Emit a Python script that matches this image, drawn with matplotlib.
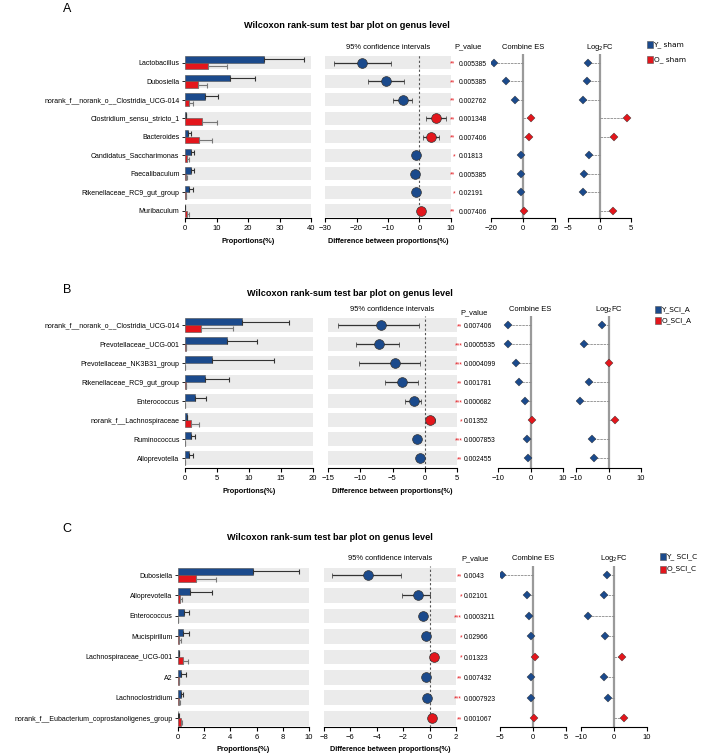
import numpy as np
import matplotlib.pyplot as plt
from matplotlib.patches import Rectangle

plt.rcParams['font.family'] = ['Liberation Sans', 'DejaVu Sans']

# ---- 数据 A: sham ----
a_taxa = ['Lactobacillus', 'Dubosiella', 'norank_f__norank_o__Clostridia_UCG-014',
          'Clostridium_sensu_stricto_1', 'Bacteroides', 'Candidatus_Saccharimonas',
          'Faecalibaculum', 'Rikenellaceae_RC9_gut_group', 'Muribaculum']
a_y_mean = [25.1, 14.3, 6.5, 0.2, 1.0, 1.9, 1.9, 1.2, 0.1]
a_y_sd = [12.7, 7.9, 3.9, 0.1, 0.9, 1.0, 1.0, 1.4, 0.05]
a_o_mean = [7.2, 4.0, 1.2, 5.5, 4.4, 0.7, 0.3, 0.2, 0.7]
a_o_sd = [6.0, 2.9, 1.2, 4.8, 4.3, 0.7, 0.2, 0.1, 0.7]
a_pval = [0.005385, 0.005385, 0.002762, 0.001348, 0.007406, 0.01813, 0.005385, 0.02191, 0.007406]
a_diff = [-18.2, -10.5, -5.2, 5.2, 3.6, -1.2, -1.5, -1.0, 0.5]
a_ci_lo = [-27.0, -16.5, -8.5, 2.2, 1.2, -2.0, -2.4, -2.0, -0.3]
a_ci_hi = [-9.0, -5.0, -2.5, 8.5, 6.3, -0.4, -0.6, -0.1, 1.2]
a_es = [-18.0, -10.5, -5.2, 5.0, 3.6, -1.2, -1.4, -1.0, 0.6]
a_fc = [-1.8, -1.95, -2.6, 4.4, 2.3, -1.6, -2.5, -2.6, 2.2]
a_groups = ['Y_ sham', 'O_ sham']

# ---- 数据 B: SCI_A ----
b_taxa = ['norank_f__norank_o__Clostridia_UCG-014', 'Prevotellaceae_UCG-001',
          'Prevotellaceae_NK3B31_group', 'Rikenellaceae_RC9_gut_group', 'Enterococcus',
          'norank_f__Lachnospiraceae', 'Ruminococcus', 'Alloprevotella']
b_y_mean = [8.85, 6.55, 4.25, 3.2, 1.5, 0.25, 1.0, 0.55]
b_y_sd = [7.4, 4.65, 9.65, 3.6, 1.8, 0.1, 0.5, 0.7]
b_o_mean = [2.5, 0.1, 0.05, 0.1, 0.05, 1.0, 0.05, 0.05]
b_o_sd = [5.0, 0.05, 0.02, 0.05, 0.02, 1.2, 0.02, 0.02]
b_pval = [0.007406, 0.0005535, 0.0004099, 0.001781, 0.000682, 0.01352, 0.0007853, 0.002455]
b_diff = [-6.85, -7.05, -4.55, -3.5, -1.65, 0.75, -1.2, -0.75]
b_ci_lo = [-13.5, -10.6, -10.2, -6.2, -3.0, 0.15, -1.7, -1.2]
b_ci_hi = [-0.9, -4.0, -0.7, -1.0, -0.6, 1.55, -0.7, -0.3]
b_es = [-6.8, -7.0, -4.6, -3.5, -1.8, 0.6, -1.2, -0.7]
b_fc = [-1.9, -7.5, 0.0, -6.0, -8.8, 2.1, -5.2, -4.6]
b_groups = ['Y_SCI_A', 'O_SCI_A']

# ---- 数据 C: SCI_C ----
c_taxa = ['Dubosiella', 'Alloprevotella', 'Enterococcus', 'Mucispirillum',
          'Lachnospiraceae_UCG-001', 'A2', 'Lachnoclostridium',
          'norank_f__Eubacterium_coprostanoligenes_group']
c_y_mean = [5.7, 0.9, 0.45, 0.35, 0.08, 0.25, 0.25, 0.03]
c_y_sd = [3.55, 1.7, 0.4, 0.5, 0.03, 0.33, 0.13, 0.02]
c_o_mean = [1.35, 0.15, 0.02, 0.1, 0.35, 0.05, 0.07, 0.2]
c_o_sd = [1.55, 0.15, 0.01, 0.1, 0.4, 0.03, 0.08, 0.13]
c_pval = [0.0043, 0.02101, 0.0003211, 0.02966, 0.01323, 0.007432, 0.0007923, 0.001067]
c_diff = [-4.65, -0.85, -0.5, -0.3, 0.3, -0.25, -0.18, 0.2]
c_ci_lo = [-7.4, -2.1, -0.7, -0.6, 0.05, -0.4, -0.3, 0.05]
c_ci_hi = [-2.2, 0.0, -0.3, -0.05, 0.55, -0.1, -0.05, 0.35]
c_es = [-4.7, -0.85, -0.55, -0.35, 0.3, -0.3, -0.25, 0.1]
c_fc = [-2.1, -3.1, -7.8, -2.6, 2.5, -3.1, -1.9, 3.1]
c_groups = ['Y_ SCI_C', 'O_SCI_C']

BLUE = '#1B4A8C'
RED = '#E3161C'
STRIP = '#EBEBEB'
W, H = 703, 755

fig = plt.figure(figsize=(W / 100, H / 100), dpi=100)


def add_ax(x0, x1, y0, y1):
    return fig.add_axes([x0 / W, 1 - y1 / H, (x1 - x0) / W, (y1 - y0) / H])


def ftext(x, y, s, **kw):
    fig.text(x / W, 1 - y / H, s, **kw)


def stars(p):
    if p < 0.001:
        return '***'
    if p < 0.01:
        return '**'
    return '*'


def style_bottom(ax, xlim, xticks):
    ax.set_xlim(*xlim)
    ax.set_xticks(xticks)
    for s in ['top', 'right', 'left']:
        ax.spines[s].set_visible(False)
    ax.spines['bottom'].set_linewidth(0.8)
    ax.tick_params(axis='x', labelsize=5.5, length=3, width=0.8, pad=2)
    ax.set_facecolor('none')


def draw_panel(letter, cfg, taxa, y_mean, y_sd, o_mean, o_sd, pval, diff, ci_lo, ci_hi, es, fc, groups):
    n = len(taxa)
    r0, r1, axis_y = cfg['rows']
    s = (r1 - r0) / (n - 1)
    top_px = r0 - 0.45 * s
    ybot = (axis_y - r0) / s
    y = np.arange(n)

    ftext(67, cfg['letter_y'], letter, fontsize=9, va='center', ha='center')
    ftext(cfg['title_x'], cfg['title_y'], 'Wilcoxon rank-sum test bar plot on genus level',
          fontsize=6.6, fontweight='bold', ha='center', va='center')

    # 比例柱状图
    bx0, bx1, bxlim, bticks = cfg['bar']
    ax = add_ax(bx0, bx1, top_px, axis_y)
    ax.set_ylim(ybot, -0.45)
    for i in y:
        ax.axhspan(i - 0.36, i + 0.36, color=STRIP, lw=0, zorder=0)
    ax.barh(y - 0.18, y_mean, height=0.36, color=BLUE, edgecolor='#555555', lw=0.4, zorder=2)
    ax.barh(y + 0.18, o_mean, height=0.36, color=RED, edgecolor='#555555', lw=0.4, zorder=2)
    ax.errorbar(y_mean, y - 0.18, xerr=[np.zeros(n), y_sd], fmt='none', ecolor='#333333',
                elinewidth=0.8, capsize=1.8, capthick=0.8, zorder=3)
    ax.errorbar(o_mean, y + 0.18, xerr=[np.zeros(n), o_sd], fmt='none', ecolor='#777777',
                elinewidth=0.8, capsize=1.8, capthick=0.8, zorder=3)
    style_bottom(ax, bxlim, bticks)
    ax.set_yticks(y)
    ax.set_yticklabels(taxa, fontsize=5)
    ax.tick_params(axis='y', length=2, width=0.6, pad=2)
    ax.set_xlabel('Proportions(%)', fontsize=5.3, fontweight='bold', labelpad=4)

    # 95% 置信区间
    cx0, cx1, cxlim, cticks = cfg['ci']
    ax = add_ax(cx0, cx1, top_px, axis_y)
    ax.set_ylim(ybot, -0.45)
    for i in y:
        ax.axhspan(i - 0.36, i + 0.36, color=STRIP, lw=0, zorder=0)
    ax.axvline(0, color='#555555', lw=0.8, ls=(0, (2, 2)), zorder=1)
    for i in y:
        c = RED if diff[i] > 0 else BLUE
        ax.errorbar(diff[i], i, xerr=[[diff[i] - ci_lo[i]], [ci_hi[i] - diff[i]]], fmt='o',
                    color=c, ms=7, mec='#333333', mew=0.5, ecolor='#333333', elinewidth=0.9,
                    capsize=1.8, capthick=0.8, zorder=3)
    style_bottom(ax, cxlim, cticks)
    ax.set_yticks([])
    ax.set_xlabel('Difference between proportions(%)', fontsize=5.2, fontweight='bold', labelpad=4)
    ax.set_title('95% confidence intervals', fontsize=5.4, pad=4)

    # P 值
    px_star, px_val = cfg['p_x']
    for i in y:
        yy = r0 + i * s + 1.5
        ftext(px_star, yy, stars(pval[i]), color=RED, fontsize=4.8, ha='right', va='center')
        ftext(px_val, yy, f'{pval[i]:g}', fontsize=4.9, ha='left', va='center')
    ftext(cfg['p_head'], cfg['head_y'], 'P_value', fontsize=5.4, ha='center', va='center')

    # Combine ES 和 Log2FC
    for key, vals, head in [('es', es, 'Combine ES'), ('fc', fc, 'Log$_2$FC')]:
        x0, x1, xlim, ticks = cfg[key]
        ax = add_ax(x0, x1, top_px, axis_y)
        ax.set_ylim(ybot, -0.45)
        ax.axvline(0, color='#9A9A9A', lw=1.6, zorder=1)
        for i in y:
            c = RED if vals[i] >= 0 else BLUE
            ax.plot([0, vals[i]], [i, i], color='#8A8A8A', lw=0.6, ls=(0, (3, 1)), zorder=2)
            ax.plot(vals[i], i, marker='D', ms=3.6, color=c, mec='#333333', mew=0.3, zorder=3)
        style_bottom(ax, xlim, ticks)
        ax.set_yticks([])
        ax.set_title(head, fontsize=5.4, pad=4)

    # 图例
    lx, ly1, ly2 = cfg['legend']
    for yy, c, name in [(ly1, BLUE, groups[0]), (ly2, RED, groups[1])]:
        fig.add_artist(Rectangle(((lx - 3) / W, 1 - (yy + 3.5) / H), 6 / W, 7 / H,
                                 transform=fig.transFigure, facecolor=c, edgecolor='#555555', lw=0.4))
        ftext(lx + 3.5, yy, name, fontsize=5.3, family='DejaVu Sans', ha='left', va='center')


cfg_a = dict(rows=(62.7, 210.7, 218.3), letter_y=9, title_x=347, title_y=25, head_y=47,
             bar=(185, 311, (0, 40), [0, 10, 20, 30, 40]),
             ci=(325, 451, (-30, 10), [-30, -20, -10, 0, 10]),
             es=(491, 555, (-20, 20), [-20, 0, 20]),
             fc=(568, 631, (-5, 5), [-5, 0, 5]),
             p_x=(455.5, 458.5), p_head=468, legend=(650, 44.7, 59.3))
cfg_b = dict(rows=(325, 458.3, 468.3), letter_y=290, title_x=350, title_y=293, head_y=312.7,
             bar=(185, 313, (0, 20), [0, 5, 10, 15, 20]),
             ci=(328, 457, (-15, 5), [-15, -10, -5, 0, 5]),
             es=(498, 563, (-10, 10), [-10, 0, 10]),
             fc=(576, 641, (-10, 10), [-10, 0, 10]),
             p_x=(462.5, 464), p_head=474, legend=(658, 309.7, 320.3))
cfg_c = dict(rows=(575, 718.3, 726.7), letter_y=529, title_x=330, title_y=537, head_y=559,
             bar=(178, 309, (0, 10), [0, 2, 4, 6, 8, 10]),
             ci=(324, 456, (-8, 2), [-8, -6, -4, -2, 0, 2]),
             es=(500, 566, (-5, 5), [-5, 0, 5]),
             fc=(581, 647, (-10, 10), [-10, 0, 10]),
             p_x=(462, 464), p_head=475, legend=(663, 556.7, 569))

draw_panel('A', cfg_a, a_taxa, a_y_mean, a_y_sd, a_o_mean, a_o_sd, a_pval, a_diff, a_ci_lo, a_ci_hi, a_es, a_fc, a_groups)
draw_panel('B', cfg_b, b_taxa, b_y_mean, b_y_sd, b_o_mean, b_o_sd, b_pval, b_diff, b_ci_lo, b_ci_hi, b_es, b_fc, b_groups)
draw_panel('C', cfg_c, c_taxa, c_y_mean, c_y_sd, c_o_mean, c_o_sd, c_pval, c_diff, c_ci_lo, c_ci_hi, c_es, c_fc, c_groups)

fig.savefig('out.png', dpi=100, facecolor='white')
